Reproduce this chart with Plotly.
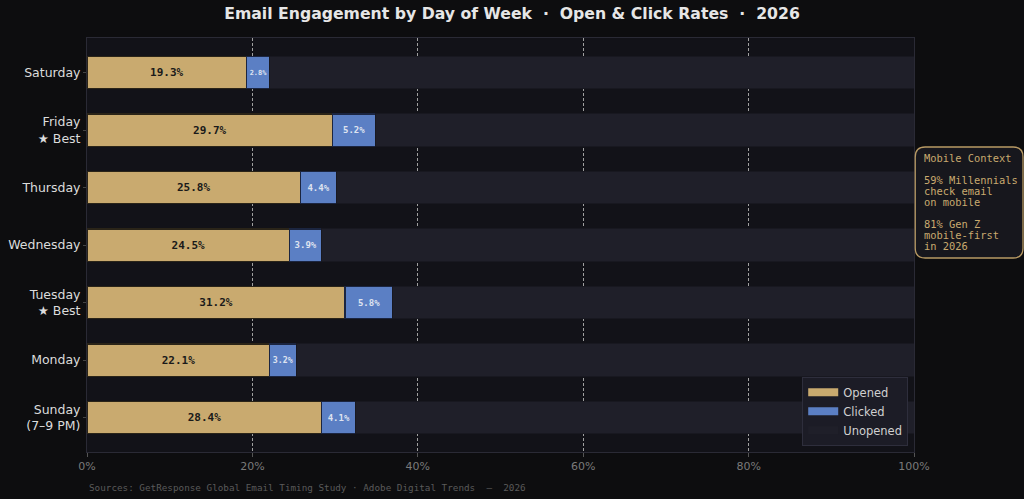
import plotly.graph_objects as go

days = ["Sunday<br>(7–9 PM)", "Monday", "Tuesday<br>★ Best", "Wednesday",
        "Thursday", "Friday<br>★ Best", "Saturday"]
opened = [28.4, 22.1, 31.2, 24.5, 25.8, 29.7, 19.3]
clicked = [4.1, 3.2, 5.8, 3.9, 4.4, 5.2, 2.8]
unopened = [round(100 - o - c, 1) for o, c in zip(opened, clicked)]
x_ticks = [0, 20, 40, 60, 80, 100]
x_tick_labels = ["0%", "20%", "40%", "60%", "80%", "100%"]
series_names = ["Opened", "Clicked", "Unopened"]
series_colors = ["#c9aa6f", "#5b7fc4", "#1f1f29"]
side_lines = ["Mobile Context", "", "59% Millennials", "check email", "on mobile",
              "", "81% Gen Z", "mobile-first", "in 2026"]

MONO = "DejaVu Sans Mono"
SANS = "DejaVu Sans"

fig = go.Figure()
fig.add_trace(go.Bar(
    y=days, x=opened, orientation="h", name="Opened", showlegend=False,
    marker=dict(color=series_colors[0], line=dict(color="#2a2418", width=1.2)),
    text=[f"{v:.1f}%" for v in opened], textposition="inside", textangle=0,
    insidetextanchor="middle",
    textfont=dict(family=MONO, size=11, color="#1a1a1a", weight="bold"),
    width=0.56,
))
fig.add_trace(go.Bar(
    y=days, x=clicked, orientation="h", name="Clicked", showlegend=False,
    marker=dict(color=series_colors[1], line=dict(color="#1b2540", width=1.2)),
    text=[f"{v:.1f}%" for v in clicked], textposition="inside", textangle=0,
    insidetextanchor="middle",
    textfont=dict(family=MONO, size=9, color="#dfe3f0", weight="bold"),
    width=0.56,
))
fig.add_trace(go.Bar(
    y=days, x=unopened, orientation="h", name="Unopened", showlegend=False,
    marker=dict(color=series_colors[2], line=dict(color="#181820", width=1)),
    textposition="none", width=0.56,
))
# legend entries with wide swatches
for name, col in zip(series_names, series_colors):
    fig.add_trace(go.Scatter(
        x=[None], y=[None], mode="lines", name=name,
        line=dict(color=col, width=8), showlegend=True,
    ))

fig.update_layout(
    width=1024, height=499,
    barmode="stack",
    margin=dict(l=87, r=110, t=38, b=47, autoexpand=False),
    paper_bgcolor="#0d0d0f",
    plot_bgcolor="#121218",
    title=dict(text="Email Engagement by Day of Week  ·  Open & Click Rates  ·  2026",
               x=0.5, xanchor="center", y=0.972, yanchor="middle",
               font=dict(family=SANS, size=15.7, color="#e6e6e6", weight="bold")),
    legend=dict(x=0.993, y=0.015, xanchor="right", yanchor="bottom",
                bgcolor="#1c1c26", bordercolor="#2e2e3c", borderwidth=1,
                font=dict(family=SANS, size=11.5, color="#d0d0d0"),
                itemwidth=30, tracegroupgap=0,
                traceorder="normal"),
    showlegend=True,
)
fig.update_xaxes(
    range=[0, 100], tickvals=x_ticks, ticktext=x_tick_labels,
    showgrid=True, gridcolor="#a0a0a0", griddash="3px,2px", gridwidth=1,
    zeroline=False, showline=True, linecolor="#2a2a35", mirror=True,
    ticks="outside", ticklen=4, tickcolor="#555", automargin=False,
    tickfont=dict(family=SANS, size=11, color="#7a7a7a"),
)
fig.update_yaxes(
    range=[-0.6, 6.6], showgrid=False, zeroline=False,
    showline=True, linecolor="#2a2a35", mirror=True,
    ticks="outside", ticklen=3, tickcolor="#444", automargin=False,
    tickfont=dict(family=SANS, size=12.5, color="#dcdcdc"),
)

# Rounded side box
x0, x1 = 1.0015, 1.1318
y0, y1 = 0.4686, 0.7367
r = 0.012
ry = 0.024
path = (f"M {x0+r},{y0} L {x1-r},{y0} Q {x1},{y0} {x1},{y0+ry} "
        f"L {x1},{y1-ry} Q {x1},{y1} {x1-r},{y1} L {x0+r},{y1} "
        f"Q {x0},{y1} {x0},{y1-ry} L {x0},{y0+ry} Q {x0},{y0} {x0+r},{y0} Z")
fig.add_shape(type="path", path=path, xref="paper", yref="paper",
              line=dict(color="#b89a64", width=1.3), fillcolor="#17171d")
# side text, one annotation per line (tight line spacing)
plot_h = 499 - 38 - 47
for i, line in enumerate(side_lines):
    if not line:
        continue
    ypx = 158 + 11 * i
    fig.add_annotation(
        text=line, xref="paper", yref="paper",
        x=(922 - 87) / 827, y=(452 - ypx) / plot_h,
        xanchor="left", yanchor="middle", align="left", showarrow=False,
        font=dict(family=MONO, size=10.4, color="#c9aa6f"),
    )
fig.add_annotation(
    text="Sources: GetResponse Global Email Timing Study · Adobe Digital Trends  —  2026",
    xref="paper", yref="paper", x=0.0, y=-0.085, xanchor="left", yanchor="middle",
    showarrow=False, font=dict(family=MONO, size=9.3, color="#5a5a5a"),
)

fig.write_html("out.html")
